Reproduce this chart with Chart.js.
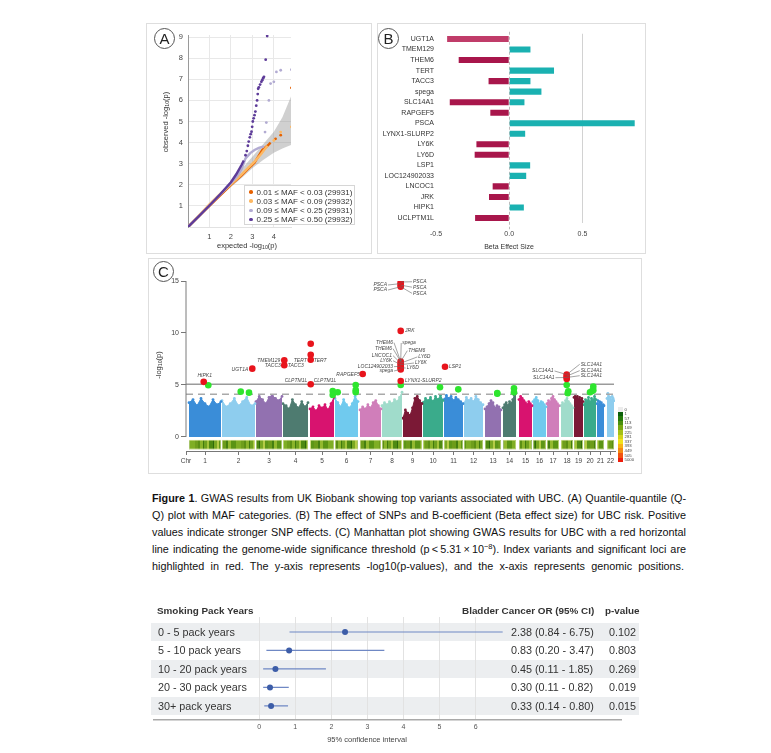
<!DOCTYPE html>
<html><head><meta charset="utf-8">
<script src="https://cdn.jsdelivr.net/npm/chart.js@4.4.1/dist/chart.umd.min.js"></script>
<style>
body{margin:0;background:#fff;width:771px;height:753px;position:relative;overflow:hidden;font-family:"Liberation Sans",Arial,sans-serif;color:#222}
.frame{position:absolute;border:1px solid #dedede;box-sizing:border-box;background:#fff}
.plabel{position:absolute;width:19px;height:19px;border:1px solid #555;border-radius:50%;font-size:15px;line-height:19px;text-align:center;color:#222;background:#fff;box-sizing:content-box}
canvas{position:absolute}
.t{position:absolute;white-space:nowrap}
.rot{transform:translate(-50%,-50%) rotate(-90deg)}
.ctr{transform:translate(-50%,-50%)}
sub{font-size:70%;vertical-align:-0.25em;line-height:0}
.cap{position:absolute;left:152px;white-space:nowrap;display:inline-block;color:#111}
.row{position:absolute;left:151px;width:488px;height:18.6px;background:#eceef0}
</style></head><body>

<div class="frame" style="left:146px;top:23px;width:226px;height:231px"></div>
<div class="frame" style="left:377px;top:23px;width:269px;height:231px"></div>
<div class="frame" style="left:148px;top:258px;width:494px;height:216px"></div>

<div id="forestRows"></div>

<canvas id="qq" width="222" height="228" style="left:148px;top:24px"></canvas>
<canvas id="beta" width="267" height="228" style="left:378px;top:24px"></canvas>
<canvas id="man" width="490" height="214" style="left:149px;top:259px"></canvas>
<canvas id="forest" width="475" height="122" style="left:150px;top:613px"></canvas>

<div class="plabel" style="left:154px;top:28px">A</div>
<div class="plabel" style="left:378px;top:28px">B</div>
<div class="plabel" style="left:153px;top:261px">C</div>

<div class="t rot" style="left:165px;top:122px;font-size:7.5px;color:#333">observed -log<sub>10</sub>(p)</div>
<div class="t ctr" style="left:247px;top:245px;font-size:7.5px;color:#333">expected -log<sub>10</sub>(p)</div>
<div class="t ctr" style="left:509px;top:246px;font-size:7px;color:#333">Beta Effect Size</div>
<div class="t rot" style="left:158px;top:365px;font-size:7.5px;color:#333">-log<sub>10</sub>(p)</div>

<div id="qqLegend" style="position:absolute;left:244px;top:185px;width:111px;height:40px;border:1px solid #d6d6d6;background:rgba(255,255,255,0.92);box-sizing:border-box"></div>
<div id="colorbar"></div>
<div id="caption"></div>
<div id="forestText"></div>

<script>
// ================= DATA =================
// Panel A: QQ plot (expected vs observed -log10 p) by MAF class
const mafLabels = ['0.01 \u2264 MAF < 0.03 (29931)', '0.03 \u2264 MAF < 0.09 (29932)', '0.09 \u2264 MAF < 0.25 (29931)', '0.25 \u2264 MAF < 0.50 (29932)'];
const qqExp1 = [0, 0.5, 1, 1.5, 2, 2.5, 2.8, 3.1, 3.46, 3.7, 3.85];
const qqObs1 = [0, 0.5, 1, 1.5, 2, 2.45, 2.75, 3.05, 3.65, 3.85, 4.0];
const qqTailExp1 = [4.08, 4.32, 4.82];
const qqTailObs1 = [4.18, 4.35, 6.6];
const qqExp2 = [0, 0.5, 1, 1.5, 2, 2.5, 2.8, 3.1, 3.4, 3.7];
const qqObs2 = [0, 0.53, 1.07, 1.57, 2.02, 2.5, 2.8, 3.1, 3.45, 3.85];
const qqTailExp2 = [4.0, 4.32, 4.82];
const qqTailObs2 = [4.1, 4.5, 4.75];
const qqExp3 = [0, 1, 1.5, 2, 2.3, 2.5, 2.68, 2.9, 3.1, 3.3, 3.45, 3.54];
const qqObs3 = [0, 1.02, 1.55, 2.08, 2.42, 2.75, 3.25, 3.5, 3.65, 3.75, 3.8, 3.81];
const qqTailExp3 = [3.59, 3.65, 3.77, 3.85, 4.0, 4.12, 4.32, 4.82];
const qqTailObs3 = [4.5, 4.95, 6.0, 6.8, 6.88, 7.35, 7.43, 7.46];
const qqExp4 = [0, 0.5, 1, 1.5, 2, 2.25, 2.5, 2.6];
const qqObs4 = [0, 0.5, 1.02, 1.55, 2.12, 2.5, 2.95, 3.15];
const qqTailExp4 = [2.68, 2.74, 2.79, 2.83, 2.88, 2.92, 2.96, 2.99, 3.02, 3.06, 3.1, 3.14, 3.18, 3.22, 3.25, 3.27, 3.3, 3.36, 3.42, 3.46, 3.5, 3.54, 3.62, 3.69];
const qqTailObs4 = [3.4, 3.6, 3.85, 4.05, 4.25, 4.4, 4.52, 4.75, 5.0, 5.15, 5.3, 5.47, 5.75, 6.0, 6.3, 6.55, 6.62, 6.75, 6.88, 6.96, 7.05, 7.12, 7.93, 9.05];
const qqBandExp = [1.0, 1.5, 2, 2.5, 3, 3.5, 4, 4.4, 4.8];
const qqBandHigh = [1.04, 1.58, 2.14, 2.75, 3.33, 3.92, 4.52, 5.2, 6.18];
const qqBandLow = [0.96, 1.44, 1.9, 2.32, 2.78, 3.18, 3.52, 3.72, 3.89];
const qqXTicks = [1, 2, 3, 4];
const qqYTicks = [1, 2, 3, 4, 5, 6, 7, 8, 9];

// Panel B: beta effect sizes
const betaGenes = ['UGT1A', 'TMEM129', 'THEM6', 'TERT', 'TACC3', 'spega', 'SLC14A1', 'RAPGEF5', 'PSCA', 'LYNX1-SLURP2', 'LY6K', 'LY6D', 'LSP1', 'LOC124902033', 'LNCOC1', 'JRK', 'HIPK1', 'UCLPTM1L'];
const betaNeg = [-0.424, null, -0.345, null, -0.141, null, -0.406, -0.129, null, null, -0.224, -0.236, null, null, -0.113, -0.138, null, -0.233];
const betaPos = [null, 0.145, null, 0.306, 0.145, 0.22, 0.104, null, 0.857, 0.109, null, null, 0.143, 0.116, null, null, 0.1, null];
const betaTicks = [-0.5, 0, 0.5];

// Panel C: Manhattan plot
const chrNames = ['1','2','3','4','5','6','7','8','9','10','11','12','13','14','15','16','17','18','19','20','21','22'];
const chrStart = [0, 231, 469, 658, 847, 1022, 1197, 1351, 1498, 1638, 1785, 1925, 2072, 2198, 2310, 2408, 2506, 2604, 2695, 2765, 2856, 2926];
const chrEnd   = [224, 462, 651, 833, 1015, 1183, 1344, 1491, 1631, 1778, 1918, 2058, 2184, 2289, 2401, 2499, 2590, 2688, 2758, 2849, 2905, 2975];
const chrEnvelope = [
  [3.3,3.6,3.0,3.7,3.2,2.9,3.6,3.1,3.4],
  [3.5,2.9,3.2,3.7,3.0,3.4,3.8,3.0,3.2],
  [3.4,3.9,3.6,3.2,3.8,4.0,3.7,3.5,3.9],
  [3.2,3.0,2.7,3.6,3.1,2.8,3.4,2.9,3.3],
  [2.7,2.9,2.5,3.0,2.8,3.1,2.6,3.2,3.8],
  [3.7,3.3,2.9,3.6,3.1,2.8,3.2,3.9,3.4],
  [2.6,2.9,2.7,3.1,2.8,3.3,3.5,3.0,2.7],
  [3.0,3.3,3.1,3.4,3.2,3.6,3.4,3.8,4.3],
  [1.8,2.6,2.3,2.1,2.8,3.7,3.9,3.5,3.2],
  [3.3,3.7,3.5,3.8,3.4,3.9,3.6,4.0,3.5],
  [3.6,4.0,3.7,3.9,3.5,3.8,3.6,3.4,3.2],
  [3.2,3.8,3.5,3.7,3.4,3.9,3.6,3.3,3.1],
  [2.7,2.9,3.2,3.5,3.3,2.8,3.0,2.9,2.6],
  [2.8,3.1,3.3,3.0,3.4,3.2,3.6,4.0,4.2],
  [3.6,3.9,3.7,3.5,3.3,3.1,3.4,3.2,3.0],
  [3.4,3.6,3.8,3.5,3.2,3.4,3.3,3.1,2.9],
  [3.2,3.5,3.3,3.7,3.9,3.6,3.4,3.2,3.0],
  [3.0,3.3,3.1,3.5,3.7,3.4,3.2,3.0,2.8],
  [3.8,3.9,3.7,3.9,3.6,3.8,3.5,3.7,3.4],
  [3.1,3.6,3.4,3.8,3.3,3.7,3.5,3.9,3.6],
  [3.2,3.5,3.0,3.4,3.1,3.3,2.9,3.1,3.0],
  [3.7,4.2,3.9,3.6,3.8,3.5,3.9,3.7,3.5]
];
const sigLine = 5.07;
const suggestiveLine = 4.1;
const sigGenes = ['HIPK1','UGT1A','TMEM129','TACC3','TERT','TERT','TERT','CLPTM1L','RAPGEF5','PSCA','PSCA','PSCA','PSCA','JRK','THEM6','spega','LY6D','LY6K','LNCOC1','LOC124902033','LYNX1-SLURP2','LSP1','SLC14A1','SLC14A1','SLC14A1','SLC14A1'];
const sigChr  = [1,2,4,4,5,5,5,5,7,8,8,8,8,8,8,8,8,8,8,8,8,11,18,18,18,18];
const sigPos  = [103,212,9,9,5,5,5,5,19,131,131,131,131,131,131,131,131,131,131,131,131,7,40,40,40,40];
const sigLogP = [5.3,6.57,7.37,6.9,8.97,7.9,7.43,5.07,6.06,14.9,14.75,14.6,14.45,10.2,7.25,7.1,6.95,6.8,6.65,6.5,5.38,6.76,6.0,5.85,5.72,5.58];
const nearChr  = [1,2,2,5,5,6,6,6,6,8,10,11,13,13,14,14,18,18,18,20,20,20,20];
const nearPos  = [135,131,189,159,159,19,145,145,145,131,119,100,86,86,77,77,40,51,47,65,65,42,54];
const nearLogP = [4.97,4.36,4.26,4.42,4.04,4.3,5.0,4.5,4.3,5.0,4.78,4.58,4.22,4.15,4.68,4.3,5.0,4.4,4.2,4.84,4.5,4.3,4.4];
const manYTicks = [0, 5, 10, 15];
const densityLabels = ['0','1','57','113','169','225','281','337','393','449','505','5000'];

// Forest plot
const packGroups = ['0 - 5 pack years', '5 - 10 pack years', '10 - 20 pack years', '20 - 30 pack years', '30+ pack years'];
const orVals = [2.38, 0.83, 0.45, 0.30, 0.33];
const ciLow  = [0.84, 0.20, 0.11, 0.11, 0.14];
const ciHigh = [6.75, 3.47, 1.85, 0.82, 0.80];
const pVals  = ['0.102', '0.803', '0.269', '0.019', '0.015'];
const forestTicks = [0, 1, 2, 3, 4, 5, 6];

// ================= STYLE / LAYOUT =================
Chart.defaults.font.family = '"Liberation Sans", Arial, sans-serif';
Chart.defaults.color = '#333';
Chart.defaults.animation = false;
Chart.defaults.responsive = false;
Chart.defaults.plugins.legend.display = false;
Chart.defaults.plugins.tooltip.enabled = false;

const mafColors = ['#e66101', '#fdb863', '#b2abd2', '#5e3c99'];
const xy = (xs, ys) => xs.map((x, i) => ({x: x, y: ys[i]}));
const setTicks = arr => s => { s.ticks = arr.map(v => ({value: v})); };

// ---------- Panel A ----------
const qqLines = [[qqExp1,qqObs1,qqTailExp1,qqTailObs1],[qqExp2,qqObs2,qqTailExp2,qqTailObs2],[qqExp3,qqObs3,qqTailExp3,qqTailObs3],[qqExp4,qqObs4,qqTailExp4,qqTailObs4]];
const qqDatasets = [
  {data: xy(qqBandExp, qqBandLow), showLine: true, borderWidth: 0, borderColor: 'rgba(0,0,0,0)', pointRadius: 0, fill: false, order: 20},
  {data: xy(qqBandExp, qqBandHigh), showLine: true, borderWidth: 0, borderColor: 'rgba(0,0,0,0)', pointRadius: 0, fill: '-1', backgroundColor: 'rgba(150,150,150,0.45)', order: 19}
];
qqLines.forEach((s, k) => {
  qqDatasets.push({data: xy(s[0], s[1]), showLine: true, borderColor: mafColors[k], borderWidth: 2.4, pointRadius: 0, order: 10 - k});
  qqDatasets.push({data: xy(s[2], s[3]), showLine: false, backgroundColor: mafColors[k], pointRadius: 1.4, pointBorderWidth: 0, order: 10 - k});
});
new Chart(document.getElementById('qq'), {
  type: 'scatter',
  data: {datasets: qqDatasets},
  options: {
    layout: {padding: {left: 0, top: 11, right: 79, bottom: 0}},
    scales: {
      x: {type: 'linear', min: 0, max: 4.8, afterBuildTicks: setTicks(qqXTicks), afterFit: s => { s.height = 25; },
          ticks: {font: {size: 7.5}, color: '#444', padding: 5}, grid: {color: '#e8e8e8', drawTicks: false}, border: {color: '#e2e2e2'}},
      y: {type: 'linear', min: 0, max: 9.1, afterBuildTicks: setTicks(qqYTicks), afterFit: s => { s.width = 40; },
          ticks: {font: {size: 7.5}, color: '#444', padding: 5}, grid: {color: '#e8e8e8', drawTicks: false}, border: {color: '#9a9a9a'}}
    }
  }
});
const leg = document.getElementById('qqLegend');
mafLabels.forEach((l, k) => {
  const d = document.createElement('div');
  d.style.cssText = 'position:absolute;left:4px;top:' + (1.5 + k * 9.3) + 'px;font-size:8px;line-height:9px;white-space:nowrap;color:#333';
  d.innerHTML = '<span style="display:inline-block;width:3.6px;height:3.6px;border-radius:50%;background:' + mafColors[k] + ';margin-right:4px;vertical-align:1px"></span>' + l;
  leg.appendChild(d);
});

// ---------- Panel B ----------
const negColors = betaGenes.map((g, i) => i === 0 ? '#c03c69' : '#a8164b');
new Chart(document.getElementById('beta'), {
  type: 'bar',
  data: {labels: betaGenes, datasets: [
    {data: betaNeg, backgroundColor: negColors, barPercentage: 0.58, categoryPercentage: 1},
    {data: betaPos, backgroundColor: '#1ab1b1', barPercentage: 0.58, categoryPercentage: 1}
  ]},
  options: {
    indexAxis: 'y',
    datasets: {bar: {grouped: false}},
    layout: {padding: {left: 0, top: 9.75, right: 4, bottom: 0}},
    scales: {
      x: {type: 'linear', min: -0.5, max: 0.9, afterBuildTicks: setTicks(betaTicks), afterFit: s => { s.height = 28.75; },
          ticks: {font: {size: 7}, color: '#444', padding: 7, callback: v => v.toFixed(1)},
          grid: {drawTicks: false, color: c => (c.tick && c.tick.value === 0.5) ? '#d2d2d2' : 'rgba(0,0,0,0)'}, border: {display: false}},
      y: {afterFit: s => { s.width = 58; }, ticks: {font: {size: 7}, color: '#333', padding: 2, autoSkip: false},
          grid: {display: false, drawTicks: false}, border: {display: false}}
    }
  },
  plugins: [{id: 'zeroDash', beforeDatasetsDraw(chart) {
    const {ctx, chartArea: a, scales: {x}} = chart; const px = Math.round(x.getPixelForValue(0)) + 0.5;
    ctx.save(); ctx.strokeStyle = '#bcbcbc'; ctx.lineWidth = 1; ctx.setLineDash([3, 2]);
    ctx.beginPath(); ctx.moveTo(px, a.top - 2); ctx.lineTo(px, a.bottom + 6); ctx.stroke(); ctx.restore();
  }}]
});

// ---------- Panel C ----------
const chrColorCycle = ['#3a8dd8', '#8ecdee', '#9271b0', '#4e7b70', '#d8136f', '#70caee', '#d07eba', '#a0dccb', '#7b1936', '#3aab8b'];
const xMinC = -21, xMaxC = 2982;
const chrCenters = chrStart.map((s, k) => (s + chrEnd[k]) / 2);
const gpos = (c, p) => chrStart[c - 1] + p;
const manDatasets = [];
chrNames.forEach((n, k) => {
  const env = chrEnvelope[k], s = chrStart[k], e = chrEnd[k], col = chrColorCycle[k % 10];
  manDatasets.push({type: 'line', data: env.map((v, i) => ({x: s + (e - s) * i / (env.length - 1), y: v})),
    fill: 'origin', backgroundColor: col, borderColor: col, borderWidth: 1, pointRadius: 1.4, pointBackgroundColor: col, pointBorderWidth: 0, tension: 0, order: 10});
});
manDatasets.push({type: 'line', data: [{x: xMinC, y: sigLine}, {x: chrEnd[21], y: sigLine}], borderColor: '#9b9b9b', borderWidth: 1.5, pointRadius: 0, fill: false, order: 6});
manDatasets.push({type: 'line', data: [{x: xMinC, y: suggestiveLine}, {x: chrEnd[21], y: suggestiveLine}], borderColor: '#a9a9a9', borderWidth: 1.5, borderDash: [7, 5], pointRadius: 0, fill: false, order: 7});
manDatasets.push({type: 'scatter', data: nearChr.map((c, i) => ({x: gpos(c, nearPos[i]), y: nearLogP[i]})), backgroundColor: '#2ee52e', pointRadius: 3.3, pointBorderWidth: 0, order: 3});
manDatasets.push({type: 'scatter', data: sigChr.map((c, i) => ({x: gpos(c, sigPos[i]), y: sigLogP[i]})), backgroundColor: '#e8141c', pointRadius: 3.3, pointBorderWidth: 0, order: 2});
manDatasets.push({type: 'line', data: [{x: xMinC, y: 0}, {x: xMinC, y: 15}], borderColor: '#7a7a7a', borderWidth: 1, pointRadius: 0, fill: false, clip: false, order: 1});

// label layout: [point index, text, dx px, dy px, align, leader line]
const sigLabelLayout = [
 [0,'HIPK1',1,-6.5,'center',false],[1,'UGT1A',-4,0.5,'right',false],[2,'TMEM129',-4,0,'right',false],
 [3,'TACC3',-3.5,0.3,'right',false],[3,'TACC3',3.5,0.3,'left',false],[6,'TERT',-4,0.6,'right',false],[6,'TERT',3,0.6,'left',false],
 [7,'CLPTM1L',-3.5,-3.3,'right',false],[7,'CLPTM1L',3,-3.3,'left',false],[8,'RAPGEF5',-3,0.3,'right',false],
 [10,'PSCA',-13.7,1.4,'right',true],[12,'PSCA',-13.7,3.3,'right',true],[9,'PSCA',12.3,-0.3,'left',true],[11,'PSCA',12.3,2,'left',true],[12,'PSCA',12.3,6.6,'left',true],
 [13,'JRK',4.3,0,'left',false],
 [14,'THEM6',-7.7,-18.9,'right',true],[14,'THEM6',-8.7,-12.9,'right',true],[15,'LNCOC1',-8.7,-7.5,'right',true],[16,'LY6K',-8.7,-4,'right',true],
 [17,'LOC124902033',-7.7,0.4,'right',true],[19,'spega',-7.7,1.6,'right',true],
 [14,'spega',1.5,-18.6,'left',true],[14,'THEM6',7.6,-10.9,'left',true],[15,'LY6D',17.6,-6.2,'left',true],[16,'LY6K',14.3,-1.7,'left',true],[18,'LY6D',6,0.2,'left',true],
 [20,'LYNX1-SLURP2',4.3,0,'left',false],[21,'LSP1',4,0,'left',false],
 [22,'SLC14A1',-13.2,-3.6,'right',true],[24,'SLC14A1',-12.2,0.2,'right',true],[22,'SLC14A1',14,-10.3,'left',true],[23,'SLC14A1',14,-5.5,'left',true],[24,'SLC14A1',14,-1.8,'left',true]
];

function stripePattern(ctx) {
  const c = document.createElement('canvas'); c.width = 46; c.height = 4; const g = c.getContext('2d');
  const cols = ['#6f9e1c','#5b8f14','#8ab42a','#3f7a0e','#6fa11e','#a4c43a','#4e8a12','#2d6a0a','#7aa822','#b5cc46','#5d9617','#6c9c1a','#447f10','#93b92e','#5a9414','#7fae24'];
  const w = [3,2,3,1,3,2,4,1,3,2,3,4,2,3,5,5];
  let x = 0; cols.forEach((col, i) => { g.fillStyle = col; g.fillRect(x, 0, w[i], 4); x += w[i]; });
  return ctx.createPattern(c, 'repeat');
}
const manPlugin = {id: 'manExtras', afterDatasetsDraw(chart) {
  const {ctx, scales: {x, y}} = chart;
  const pat = stripePattern(ctx);
  ctx.save();
  const yt = y.getPixelForValue(-0.29), yb = y.getPixelForValue(-1.18);
  chrStart.forEach((s, k) => {
    const x1 = x.getPixelForValue(s), x2 = x.getPixelForValue(chrEnd[k]);
    ctx.fillStyle = pat; ctx.fillRect(x1, yt, x2 - x1, yb - yt);
    ctx.strokeStyle = 'rgba(230,235,180,0.9)'; ctx.lineWidth = 0.6; ctx.strokeRect(x1 + 0.3, yt + 0.3, x2 - x1 - 0.6, yb - yt - 0.6);
  });
  ctx.font = 'italic 5px "Liberation Sans", Arial, sans-serif';
  ctx.textBaseline = 'middle';
  sigLabelLayout.forEach(L => {
    const i = L[0];
    const px = x.getPixelForValue(gpos(sigChr[i], sigPos[i])), py = y.getPixelForValue(sigLogP[i]);
    const ax = px + L[2], ay = py + L[3];
    if (L[5]) {
      ctx.strokeStyle = '#666'; ctx.lineWidth = 0.6; ctx.beginPath();
      ctx.moveTo(L[4] === 'right' ? ax + 1 : ax - 1, ay); ctx.lineTo(px, py); ctx.stroke();
    }
    ctx.fillStyle = '#444'; ctx.textAlign = L[4]; ctx.fillText(L[1], ax, ay);
  });
  ctx.restore();
}};
new Chart(document.getElementById('man'), {
  type: 'scatter',
  data: {datasets: manDatasets},
  options: {
    layout: {padding: {left: 0, top: 22, right: 24, bottom: 0}},
    scales: {
      x: {type: 'linear', min: xMinC, max: xMaxC, afterFit: s => { s.height = 22; },
          afterBuildTicks: s => { s.ticks = [{value: xMinC}].concat(chrCenters.map(v => ({value: v}))); },
          ticks: {autoSkip: false, maxRotation: 0, font: {size: 6.5}, color: '#444', padding: 2, callback: (v, i) => i === 0 ? 'Chr' : chrNames[i - 1]},
          grid: {drawOnChartArea: false, drawTicks: true, tickLength: 4, tickColor: '#777'}, border: {color: '#777', width: 1}},
      y: {type: 'linear', min: -1.35, max: 15, afterFit: s => { s.width = 37; }, afterBuildTicks: setTicks(manYTicks),
          ticks: {font: {size: 7}, color: '#444', padding: 2}, grid: {drawOnChartArea: false, tickLength: 5, tickColor: '#777'}, border: {display: false}}
    }
  },
  plugins: [manPlugin]
});
// density colour bar legend
const cbColors = ['#ececec','#0a5f0a','#247a0a','#4a900e','#78a812','#a4c016','#d2d41a','#f2e21c','#f7b417','#f58a12','#f2520e','#ee1c0c'];
const cb = document.getElementById('colorbar');
densityLabels.forEach((l, i) => {
  const c = document.createElement('div');
  c.style.cssText = 'position:absolute;left:618px;width:5px;height:4.7px;top:' + (407 + i * 4.6) + 'px;background:' + cbColors[i];
  cb.appendChild(c);
  const t = document.createElement('div');
  t.className = 't';
  t.style.cssText = 'left:624.5px;top:' + (406.6 + i * 4.6) + 'px;font-size:4.3px;line-height:5px;color:#444';
  t.textContent = l; cb.appendChild(t);
});

// ---------- Caption ----------
const capLines = [
  '<b>Figure 1</b>. GWAS results from UK Biobank showing top variants associated with UBC. (A) Quantile-quantile (Q-',
  'Q) plot with MAF categories. (B) The effect of SNPs and B-coefficient (Beta effect size) for UBC risk. Positive',
  'values indicate stronger SNP effects. (C) Manhattan plot showing GWAS results for UBC with a red horizontal',
  'line indicating the genome-wide significance threshold (p\u2009<\u20095.31\u2009\u00d7\u200910<sup style="font-size:70%;vertical-align:0.55em;line-height:0">\u22128</sup>). Index variants and significant loci are',
  'highlighted in red. The y-axis represents -log10(p-values), and the x-axis represents genomic positions.'
];
const capEl = document.getElementById('caption');
const capSpans = capLines.map((h, i) => {
  const s = document.createElement('span'); s.className = 'cap'; s.innerHTML = h;
  s.style.top = (490 + i * 17) + 'px'; s.style.fontSize = '10px'; s.style.lineHeight = '17px';
  capEl.appendChild(s); return s;
});
let maxW = 0;
capSpans.forEach(s => { maxW = Math.max(maxW, s.getBoundingClientRect().width); });
const fs = 10 * 529 / maxW;
capSpans.forEach((s, i) => {
  s.style.fontSize = fs.toFixed(2) + 'px';
  const target = i < 4 ? 534 : 532;
  const w = s.getBoundingClientRect().width;
  const n = (s.textContent.match(/ /g) || []).length;
  s.style.wordSpacing = ((target - w) / n).toFixed(3) + 'px';
});

// ---------- Forest ----------
const rowsEl = document.getElementById('forestRows');
const rowY = i => 632 + i * 18.49;
packGroups.forEach((g, i) => {
  if (i % 2 === 0) { const r = document.createElement('div'); r.className = 'row'; r.style.top = (rowY(i) - 9.3) + 'px'; rowsEl.appendChild(r); }
});
const ft = document.getElementById('forestText');
function addT(txt, left, cy, css) { const d = document.createElement('div'); d.className = 't'; d.style.cssText = 'left:' + left + 'px;top:' + (cy - 7) + 'px;line-height:14px;' + css; d.textContent = txt; ft.appendChild(d); return d; }
addT('Smoking Pack Years', 157, 611, 'font-size:9.9px;font-weight:bold;color:#333');
addT('Bladder Cancer OR (95% CI)', 462, 611, 'font-size:9.9px;font-weight:bold;color:#333');
addT('p-value', 605, 611, 'font-size:9.9px;font-weight:bold;color:#333');
packGroups.forEach((g, i) => {
  addT(g, 158, rowY(i), 'font-size:10.8px;color:#333');
  addT(orVals[i].toFixed(2) + ' (' + ciLow[i].toFixed(2) + ' - ' + ciHigh[i].toFixed(2) + ')', 511, rowY(i), 'font-size:10.8px;color:#333');
  addT(pVals[i], 0, rowY(i), 'font-size:10.8px;color:#333;text-align:right;width:636px');
});
addT('95% confidence interval', 0, 740, 'font-size:7.5px;color:#444;width:734px;text-align:center');

const ciData = [];
orVals.forEach((v, i) => { ciData.push({x: ciLow[i], y: i}, {x: ciHigh[i], y: i}, {x: null, y: null}); });
new Chart(document.getElementById('forest'), {
  type: 'scatter',
  data: {datasets: [
    {data: orVals.map((v, i) => ({x: v, y: i})), backgroundColor: '#3d5da8', pointRadius: 3, pointBorderWidth: 0, order: 1},
    {data: ciData, showLine: true, spanGaps: false, borderColor: '#6f88c4', borderWidth: 1.2, pointRadius: 0, order: 2}
  ]},
  options: {
    layout: {padding: {left: 0, top: 4, right: 0, bottom: 0}},
    scales: {
      x: {type: 'linear', min: -2.916, max: 10.03, afterBuildTicks: setTicks(forestTicks), afterFit: s => { s.height = 15; },
          ticks: {font: {size: 7}, color: '#555', padding: 3}, grid: {color: '#e2e2e2', drawTicks: false}, border: {color: '#a9a9a9', width: 1.5}},
      y: {display: false, min: -0.81, max: 4.76, reverse: true}
    }
  }
});
</script>
</body></html>
